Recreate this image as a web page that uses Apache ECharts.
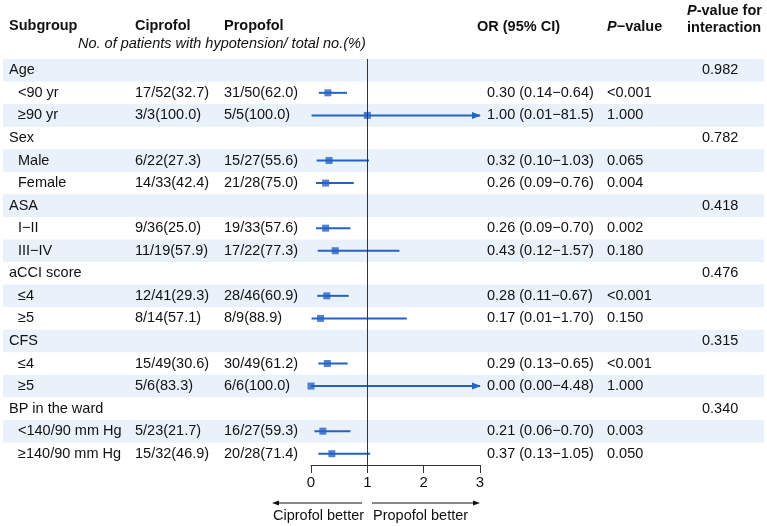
<!DOCTYPE html>
<html>
<head>
<meta charset="utf-8">
<script src="https://cdn.jsdelivr.net/npm/echarts@6/dist/echarts.min.js"></script>
<style>
  html, body { margin: 0; padding: 0; background: #fff; }
  #chart { width: 767px; height: 526px; }
</style>
</head>
<body>
<div id="chart"></div>
<script>
// rows of the forest plot, top to bottom
const subgroups = ['Age', '<90 yr', '≥90 yr', 'Sex', 'Male', 'Female', 'ASA', 'I−II', 'III−IV',
  'aCCI score', '≤4', '≥5', 'CFS', '≤4', '≥5', 'BP in the ward', '<140/90 mm Hg', '≥140/90 mm Hg'];
const isHeading = [1, 0, 0, 1, 0, 0, 1, 0, 0, 1, 0, 0, 1, 0, 0, 1, 0, 0];
const ciprofol = ['', '17/52(32.7)', '3/3(100.0)', '', '6/22(27.3)', '14/33(42.4)', '', '9/36(25.0)', '11/19(57.9)',
  '', '12/41(29.3)', '8/14(57.1)', '', '15/49(30.6)', '5/6(83.3)', '', '5/23(21.7)', '15/32(46.9)'];
const propofol = ['', '31/50(62.0)', '5/5(100.0)', '', '15/27(55.6)', '21/28(75.0)', '', '19/33(57.6)', '17/22(77.3)',
  '', '28/46(60.9)', '8/9(88.9)', '', '30/49(61.2)', '6/6(100.0)', '', '16/27(59.3)', '20/28(71.4)'];
const oddsRatio = [null, 0.30, 1.00, null, 0.32, 0.26, null, 0.26, 0.43, null, 0.28, 0.17, null, 0.29, 0.00, null, 0.21, 0.37];
const ciLower = [null, 0.14, 0.01, null, 0.10, 0.09, null, 0.09, 0.12, null, 0.11, 0.01, null, 0.13, 0.00, null, 0.06, 0.13];
const ciUpper = [null, 0.64, 81.5, null, 1.03, 0.76, null, 0.70, 1.57, null, 0.67, 1.70, null, 0.65, 4.48, null, 0.70, 1.05];
const pValue = ['', '<0.001', '1.000', '', '0.065', '0.004', '', '0.002', '0.180', '', '<0.001', '0.150', '', '<0.001', '1.000', '', '0.003', '0.050'];
const pInteraction = ['0.982', '', '', '0.782', '', '', '0.418', '', '', '0.476', '', '', '0.315', '', '', '0.340', '', ''];
const xTicks = [0, 1, 2, 3];

const xMax = xTicks[xTicks.length - 1];
const blue = '#2463c6';
const band = '#e9f1fa';
const ink = '#111';
const font = '"Liberation Sans", Arial, sans-serif';
const fs = 14.5;

const fmt = v => (v >= 10 ? v.toFixed(1) : v.toFixed(2));
const ciText = oddsRatio.map((v, i) => v === null ? '' : fmt(v) + ' (' + fmt(ciLower[i]) + '−' + fmt(ciUpper[i]) + ')');

const chart = echarts.init(document.getElementById('chart'));

function txt(x, y, s, extra) {
  return { type: 'text', x: x, y: y, style: Object.assign({ text: s, fill: ink, fontSize: fs, fontFamily: font, verticalAlign: 'middle', align: 'left' }, extra || {}) };
}

// background bands and table columns
function renderRow(params, api) {
  const i = api.value(1);
  const y = api.coord([0, i])[1];
  const h = api.size([0, 1])[1];
  const W = api.getWidth();
  const kids = [];
  if (i % 2 === 0) {
    kids.push({ type: 'rect', shape: { x: 3, y: y - h / 2, width: W - 6, height: h }, style: { fill: band } });
  }
  kids.push(txt(isHeading[i] ? 9 : 18, y, subgroups[i]));
  kids.push(txt(135, y, ciprofol[i]));
  kids.push(txt(224, y, propofol[i]));
  kids.push(txt(487, y, ciText[i]));
  kids.push(txt(607, y, pValue[i]));
  kids.push(txt(702, y, pInteraction[i]));
  return { type: 'group', children: kids };
}

// CI lines, with arrow when the upper bound is off the scale
function renderCI(params, api) {
  const i = api.value(2);
  const up = api.value(1);
  const a = api.coord([api.value(0), i]);
  const b = api.coord([Math.min(up, xMax), i]);
  const kids = [{ type: 'line', shape: { x1: a[0], y1: a[1], x2: b[0], y2: b[1] }, style: { stroke: blue, lineWidth: 2 } }];
  if (up > xMax) {
    kids.push({ type: 'polygon', shape: { points: [[b[0] + 1, b[1]], [b[0] - 8, b[1] - 3.5], [b[0] - 8, b[1] + 3.5]] }, style: { fill: blue } });
  }
  return { type: 'group', children: kids };
}

const rowIdx = subgroups.map((_, i) => i);
const ciData = [];
const pointData = [];
oddsRatio.forEach((v, i) => {
  if (v === null) return;
  ciData.push([ciLower[i], ciUpper[i], i]);
  pointData.push([v, i]);
});

const option = {
  animation: false,
  grid: { left: 311, right: 287, top: 59, bottom: 61 },
  xAxis: {
    type: 'value', min: 0, max: xMax, interval: 1,
    splitLine: { show: false },
    axisLine: { show: true, lineStyle: { color: '#333', width: 1 } },
    axisTick: { show: true, length: 8, lineStyle: { color: '#333' } },
    axisLabel: { color: ink, fontSize: 15, fontFamily: font, margin: 10 }
  },
  yAxis: {
    type: 'category', data: rowIdx, inverse: true,
    show: false
  },
  graphic: [
    txt(9, 26, 'Subgroup', { fontWeight: 'bold' }),
    txt(135, 26, 'Ciprofol', { fontWeight: 'bold' }),
    txt(224, 26, 'Propofol', { fontWeight: 'bold' }),
    txt(477, 27, 'OR (95% CI)', { fontWeight: 'bold' }),
    txt(607, 27, '{i|P}−value', { fontWeight: 'bold', rich: { i: { fontStyle: 'italic', fontWeight: 'bold', fontSize: fs, fontFamily: font, fill: ink } } }),
    txt(687, 11, '{i|P}-value for', { fontWeight: 'bold', rich: { i: { fontStyle: 'italic', fontWeight: 'bold', fontSize: fs, fontFamily: font, fill: ink } } }),
    txt(687, 28, 'interaction', { fontWeight: 'bold' }),
    txt(78, 44, 'No. of patients with hypotension/ total no.(%)', { fontStyle: 'italic' }),
    // direction arrows under the axis
    { type: 'line', shape: { x1: 362, y1: 503, x2: 276, y2: 503 }, style: { stroke: '#111', lineWidth: 1 } },
    { type: 'polygon', shape: { points: [[272, 503], [279, 500.5], [279, 505.5]] }, style: { fill: '#111' } },
    { type: 'line', shape: { x1: 372, y1: 503, x2: 476, y2: 503 }, style: { stroke: '#111', lineWidth: 1 } },
    { type: 'polygon', shape: { points: [[480, 503], [473, 500.5], [473, 505.5]] }, style: { fill: '#111' } },
    txt(273, 516, 'Ciprofol better'),
    txt(373, 516, 'Propofol better')
  ],
  series: [
    {
      type: 'custom', z: 1, silent: true,
      data: rowIdx.map(i => [0, i]),
      encode: { x: 0, y: 1 },
      renderItem: renderRow
    },
    {
      type: 'custom', z: 3, silent: true,
      data: ciData,
      encode: { x: [0, 1], y: 2 },
      renderItem: renderCI
    },
    {
      type: 'scatter', z: 4, silent: true,
      symbol: 'rect', symbolSize: 7,
      itemStyle: { color: blue },
      data: pointData,
      markLine: {
        silent: true, symbol: 'none',
        label: { show: false },
        lineStyle: { color: '#333', type: 'solid', width: 1 },
        data: [{ xAxis: 1 }]
      }
    }
  ]
};
chart.setOption(option);
</script>
</body>
</html>
